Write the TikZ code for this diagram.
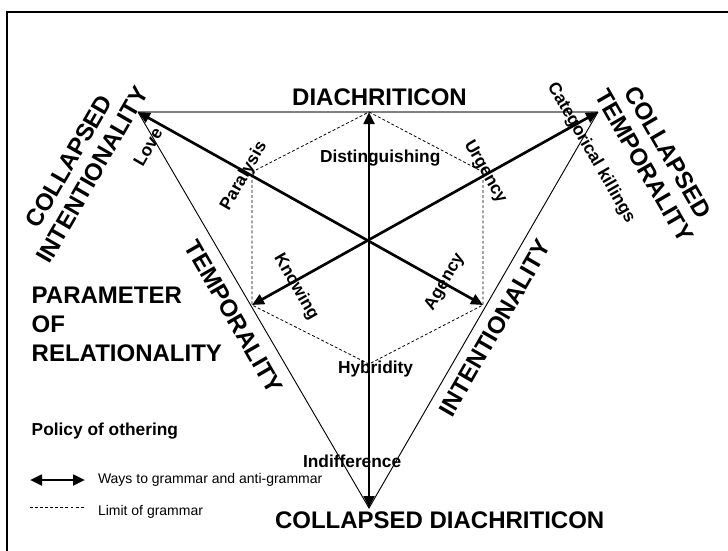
\documentclass[tikz,border=0pt]{standalone}
\usepackage{fontspec}
\setmainfont{Liberation Sans}
\usetikzlibrary{arrows.meta}
\begin{document}
\begin{tikzpicture}[x=0.75pt,y=-0.75pt,
  every node/.style={inner sep=0pt, outer sep=0pt},
  bigtxt/.style={font=\fontsize{18}{20.5}\selectfont\bfseries, align=center},
  midtxt/.style={font=\fontsize{13}{15}\selectfont\bfseries},
  smalltxt/.style={font=\fontsize{10.5}{12}\selectfont},
  tip/.style={Triangle[length=9pt,width=8pt]},
  median/.style={line width=2pt, {Triangle[length=9pt,width=8pt]}-{Triangle[length=9pt,width=8pt]}},
  sideedge/.style={line width=0.7pt},
  topedge/.style={line width=1.5pt, draw=black!50},
  limit/.style={line width=0.6pt, dash pattern=on 2.2pt off 1.6pt},
]
\useasboundingbox (0,0) rectangle (728,550);

% open frame
\draw[line width=1.5pt] (6.7,552) -- (6.7,11.7) -- (730,11.7);

% triangle corners
\coordinate (A) at (138,112);
\coordinate (B) at (598,112);
\coordinate (C) at (369,508);
% limit hexagon
\coordinate (H1) at (369,112);
\coordinate (H2) at (483,172);
\coordinate (H3) at (483,305);
\coordinate (H4) at (369,364);
\coordinate (H5) at (252,305);
\coordinate (H6) at (252,172);

% triangle
\draw[topedge] (A) -- (B);
\draw[sideedge] (A) -- (C) -- (B);

% limit of grammar
\draw[limit] (H1) -- (H2) -- (H3) -- (H4) -- (H5) -- (H6) -- cycle;

% ways to grammar and anti-grammar
\draw[median] (A) -- (H3);
\draw[median] (B) -- (H5);
\draw[median] (H1) -- (C);

% poles
\node[bigtxt, anchor=base] (diac) at (379.5,105) {DIACHRITICON};
\node[bigtxt, anchor=base west] (cdiac) at (275,528) {COLLAPSED DIACHRITICON};
\node[bigtxt, rotate=60] (cint) at (80.5,168) {COLLAPSED\\INTENTIONALITY};
\node[bigtxt, rotate=-60] (ctemp) at (656,159) {COLLAPSED\\TEMPORALITY};
\node[bigtxt, rotate=-60] (temp) at (234,317) {TEMPORALITY};
\node[bigtxt, rotate=60] (intent) at (495,328) {INTENTIONALITY};

% labels on the axes
\node[midtxt, anchor=base west] (dist) at (320,162.7) {Distinguishing};
\node[midtxt, anchor=base west] (hyb) at (338,373) {Hybridity};
\node[midtxt, anchor=base west] (indiff) at (303,467) {Indifference};
\node[midtxt, rotate=60] (love) at (148,147) {Love};
\node[midtxt, rotate=60] (para) at (244,176) {Paralysis};
\node[midtxt, rotate=-60] (urg) at (485,172) {Urgency};
\node[midtxt, rotate=-60] (kill) at (591,153) {Categorical killings};
\node[midtxt, rotate=-60] (know) at (296,287) {Knowing};
\node[midtxt, rotate=60] (agen) at (445,282) {Agency};

% parameter
\node[bigtxt, anchor=base west] (par1) at (31.7,303.5) {PARAMETER};
\node[bigtxt, anchor=base west] (par2) at (31.7,332.5) {OF};
\node[bigtxt, anchor=base west] (par3) at (31.7,361.5) {RELATIONALITY};

% legend
\node[midtxt, anchor=base west] (policy) at (31.7,435) {Policy of othering};
\coordinate (L1a) at (30,480);
\coordinate (L1b) at (85,480);
\coordinate (L2a) at (30,507);
\coordinate (L2b) at (85,507);
\draw[median] (L1a) -- (L1b);
\draw[limit] (L2a) -- (L2b);
\node[smalltxt, anchor=base west] (ways) at (98,483) {Ways to grammar and anti-grammar};
\node[smalltxt, anchor=base west] (lim) at (98,515) {Limit of grammar};
\end{tikzpicture}
\end{document}
